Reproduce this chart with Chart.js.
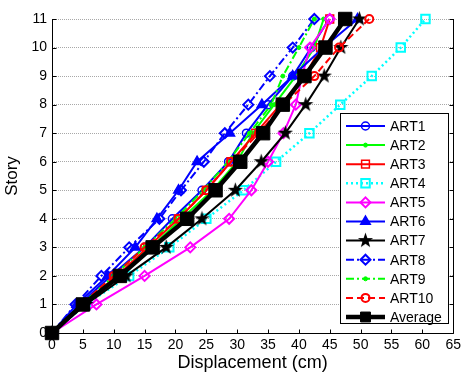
<!DOCTYPE html>
<html><head><meta charset="utf-8">
<script src="https://cdn.jsdelivr.net/npm/chart.js@4/dist/chart.umd.min.js"></script>
<style>html,body{margin:0;padding:0;background:#fff}#wrap{width:465px;height:374px;position:relative}</style>
</head><body><div id="wrap"><canvas id="c" width="465" height="374"></canvas></div>
<script>
// ---- data ----
const stories = [0, 1, 2, 3, 4, 5, 6, 7, 8, 9, 10, 11];
const art1  = [0, 4.5, 9.5, 15.0, 19.5, 24.3, 28.6, 31.5, 35.0, 39.0, 42.0, 44.9];
const art2  = [0, 5.0, 10.5, 16.0, 21.0, 26.0, 30.0, 32.5, 36.0, 39.5, 42.5, 44.0];
const art3  = [0, 5.0, 10.5, 15.5, 20.5, 25.0, 29.0, 33.0, 37.0, 41.0, 43.5, 45.0];
const art4  = [0, 5.5, 12.5, 19.0, 25.0, 31.0, 36.3, 41.7, 46.7, 51.8, 56.5, 60.5];
const art5  = [0, 7.2, 15.0, 22.4, 28.7, 32.3, 35.0, 37.5, 39.5, 40.5, 41.8, 45.0];
const art6  = [0, 4.0, 9.0, 13.5, 17.0, 20.5, 23.5, 28.8, 34.0, 39.0, 44.0, 49.5];
const art7  = [0, 5.5, 12.0, 18.5, 24.3, 29.7, 33.9, 37.8, 41.1, 44.1, 46.8, 49.8];
const art8  = [0, 3.8, 8.0, 12.5, 17.4, 20.9, 24.6, 28.0, 31.8, 35.3, 39.0, 42.5];
const art9  = [0, 4.8, 10.0, 15.0, 20.0, 24.5, 28.5, 32.0, 35.5, 37.4, 40.0, 42.5];
const art10 = [0, 4.7, 10.0, 15.0, 20.5, 25.0, 29.0, 33.5, 37.5, 42.5, 46.5, 51.4];
const average = [0, 5.0, 11.0, 16.3, 21.9, 26.5, 30.5, 34.2, 37.4, 40.9, 44.3, 47.5];
const seriesNames = ['ART1','ART2','ART3','ART4','ART5','ART6','ART7','ART8','ART9','ART10','Average'];
const xTicks = [0,5,10,15,20,25,30,35,40,45,50,55,60,65];
const yTicks = [0,1,2,3,4,5,6,7,8,9,10,11];
const xTitle = 'Displacement (cm)';
const yTitle = 'Story';

// filled star marker
function makeStar(size){
  const c = document.createElement('canvas'); c.width = size; c.height = size;
  const g = c.getContext('2d'); const cx = size/2, cy = size/2, R = size/2 - 0.5, r = R*0.4;
  g.beginPath();
  for (let i=0;i<10;i++){ const ang = -Math.PI/2 + i*Math.PI/5; const rr = i%2?r:R;
    const px = cx + rr*Math.cos(ang), py = cy + rr*Math.sin(ang); i?g.lineTo(px,py):g.moveTo(px,py);} 
  g.closePath(); g.fillStyle = '#000'; g.fill();
  return c;
}
const starImg = makeStar(17);

const styles = [
  {c:'#0000ff', w:2,   dash:[],        ps:'circle',   r:4,   bw:1.5, fill:false},
  {c:'#00ff00', w:2,   dash:[],        ps:'circle',   r:2,   bw:1,   fill:true},
  {c:'#ff0000', w:2,   dash:[],        ps:'rect',     r:5.5, bw:1.5, fill:false},
  {c:'#00ffff', w:2.5, dash:[2,3],     ps:'rect',     r:6,   bw:2,   fill:false},
  {c:'#ff00ff', w:2,   dash:[],        ps:'rectRot',  r:5,   bw:2,   fill:false},
  {c:'#0000ff', w:2,   dash:[],        ps:'triangle', r:5.5, bw:1.5, fill:true},
  {c:'#000000', w:2,   dash:[],        ps:starImg,    r:8,   bw:1,   fill:true},
  {c:'#0000ff', w:2,   dash:[8,3,2,3], ps:'rectRot',  r:5,   bw:2,   fill:false},
  {c:'#00ff00', w:2,   dash:[8,3,2,3], ps:'circle',   r:2,   bw:1,   fill:true},
  {c:'#ff0000', w:2,   dash:[7,4],     ps:'circle',   r:4,   bw:2,   fill:false},
  {c:'#000000', w:4.5, dash:[],        ps:'rect',     r:9.5, bw:1,   fill:true}
];
const allSeries = [art1,art2,art3,art4,art5,art6,art7,art8,art9,art10,average];

const datasets = allSeries.map((vals,i)=>{
  const s = styles[i];
  return {
    label: seriesNames[i],
    data: vals.map((v,k)=>({x:v, y:stories[k]})),
    borderColor: s.c, borderWidth: s.w, borderDash: s.dash,
    pointStyle: s.ps, pointRadius: s.r, pointHoverRadius: s.r,
    pointBorderColor: s.c, pointBorderWidth: s.bw,
    pointBackgroundColor: s.fill ? s.c : 'rgba(0,0,0,0)',
    backgroundColor: s.c,
    fill: false, tension: 0, clip: false, showLine: true,
    order: allSeries.length - i
  };
});

function drawMarker(ctx, s, x, y){
  ctx.save();
  ctx.setLineDash([]);
  ctx.strokeStyle = s.c; ctx.fillStyle = s.c; ctx.lineWidth = s.bw;
  const r = s.ps === 'rect' && s.r > 8 ? 7 : s.r;
  if (typeof s.ps !== 'string'){ ctx.drawImage(s.ps, x - s.ps.width/2, y - s.ps.height/2); ctx.restore(); return; }
  ctx.beginPath();
  if (s.ps==='circle'){ ctx.arc(x,y,r,0,Math.PI*2); }
  else if (s.ps==='rect'){ const h = r*Math.SQRT1_2; ctx.rect(x-h,y-h,2*h,2*h); }
  else if (s.ps==='rectRot'){ ctx.moveTo(x,y-r); ctx.lineTo(x+r,y); ctx.lineTo(x,y+r); ctx.lineTo(x-r,y); ctx.closePath(); }
  else if (s.ps==='triangle'){ ctx.moveTo(x,y-r); ctx.lineTo(x+r*0.866,y+r*0.5); ctx.lineTo(x-r*0.866,y+r*0.5); ctx.closePath(); }
  if (s.fill) ctx.fill();
  ctx.stroke();
  ctx.restore();
}

const framePlugin = {
  id: 'frame',
  beforeDatasetsDraw(chart){
    const {ctx, chartArea:a, scales:{x,y}} = chart;
    ctx.save();
    ctx.strokeStyle = '#000'; ctx.lineWidth = 1; ctx.setLineDash([]);
    ctx.beginPath();
    const L = Math.round(a.left)+0.5, B = Math.round(a.bottom)+0.5, R = Math.round(a.right)+0.5, T = Math.round(a.top);
    ctx.moveTo(L, T); ctx.lineTo(L, B); ctx.lineTo(R, B); ctx.lineTo(R, T);
    xTicks.forEach(v=>{ const px = Math.round(x.getPixelForValue(v))+0.5; ctx.moveTo(px, B); ctx.lineTo(px, B-4); });
    yTicks.forEach(v=>{ const py = Math.round(y.getPixelForValue(v))+0.5; ctx.moveTo(R, py); ctx.lineTo(R-4, py); ctx.moveTo(L, py); ctx.lineTo(L+4, py); });
    ctx.stroke();
    ctx.restore();
  },
  afterDatasetsDraw(chart){
    const ctx = chart.ctx;
    ctx.save();
    const bx = 340.5, by = 113.5, bw = 108, bh = 210;
    ctx.fillStyle = '#fff'; ctx.fillRect(bx, by, bw, bh);
    ctx.strokeStyle = '#000'; ctx.lineWidth = 1; ctx.setLineDash([]);
    ctx.strokeRect(bx, by, bw, bh);
    ctx.font = '14px "Liberation Sans", Arial, sans-serif';
    ctx.textBaseline = 'middle'; ctx.textAlign = 'left';
    seriesNames.forEach((name,i)=>{
      const s = styles[i];
      const yy = 126 + i*19.1;
      ctx.save();
      ctx.strokeStyle = s.c; ctx.lineWidth = s.w; ctx.setLineDash(s.dash);
      ctx.beginPath(); ctx.moveTo(346, yy); ctx.lineTo(385, yy); ctx.stroke();
      ctx.restore();
      drawMarker(ctx, s, 365.5, yy);
      ctx.fillStyle = '#000';
      ctx.fillText(name, 390, yy+1);
    });
    ctx.restore();
  }
};

const tickFont = {family:'"Liberation Sans", Arial, sans-serif', size:14};
const titleFont = {family:'"Liberation Sans", Arial, sans-serif', size:18};

new Chart(document.getElementById('c'), {
  type: 'line',
  data: { datasets },
  options: {
    responsive: false, animation: false, devicePixelRatio: 1,
    layout: { padding: {top:19, right:9, left:0, bottom:0} },
    plugins: { legend: {display:false}, tooltip: {enabled:false} },
    scales: {
      x: {
        type: 'linear', min: 0, max: 65,
        afterBuildTicks(s){ s.ticks = xTicks.map(v=>({value:v})); },
        afterFit(s){ s.height = 41; },
        grid: { display: false, drawTicks: false },
        border: { display: false },
        ticks: { font: tickFont, color:'#000', padding: 4, maxRotation: 0, autoSkip: false },
        title: { display: true, text: xTitle, font: titleFont, color:'#000', padding:{top:0,bottom:0} }
      },
      y: {
        type: 'linear', min: 0, max: 11,
        afterBuildTicks(s){ s.ticks = yTicks.map(v=>({value:v})); },
        afterFit(s){ s.width = 52; },
        grid: { color: '#a8a8a8', lineWidth: 1, drawTicks: false, borderDash:[1,1] },
        border: { display: false, dash:[1,1] },
        ticks: { font: tickFont, color:'#000', padding: 5, autoSkip: false },
        title: { display: true, text: yTitle, font: {family:'"Liberation Sans", Arial, sans-serif', size:17}, color:'#000', padding:{top:2,bottom:0} }
      }
    }
  },
  plugins: [framePlugin]
});
</script>
</body></html>
